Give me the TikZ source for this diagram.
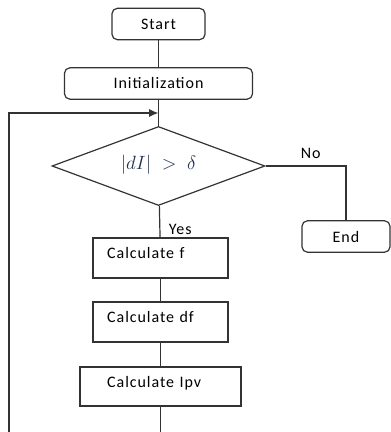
\documentclass[tikz,border=0pt]{standalone}
\usepackage{fontspec}
\setmainfont{Carlito}[LetterSpace=6]
\usetikzlibrary{shapes.geometric,arrows.meta}
\definecolor{mathblue}{HTML}{1F3050}

\tikzset{
  line/.style={draw=black!80, line width=0.9pt},
  term/.style={line, rounded corners=4pt, minimum height=23.5pt, inner sep=0pt, font=\fontsize{12}{14}\selectfont},
  stepbox/.style={line, minimum height=30pt, inner sep=0pt, font=\fontsize{12}{14}\selectfont, text depth=7pt},
  test/.style={line, diamond, aspect=2.7, minimum width=159.75pt, minimum height=59.25pt, inner sep=0pt, font=\fontsize{14.5}{17}\selectfont}
}

\begin{document}
\begin{tikzpicture}[x=0.75pt, y=-0.75pt]
  \useasboundingbox (0,0) rectangle (390,432);

  % Terminals
  \node[term, minimum width=69.75pt] (start) at (158.5,24) {Start};
  \node[term, minimum width=141pt] (init) at (158.5,83.5) {Initialization};
  \node[term, minimum width=66pt] (end) at (346,236.5) {End};

  % Test
  \node[test] (check) at (158.5,166) {\raisebox{6pt}{\color{mathblue}$\vert dI\vert\;>\;\delta$}};

  % Steps
  \node[stepbox, minimum width=101.25pt, text width=80pt, align=left] (calcf) at (160.5,258) {Calculate f};
  \node[stepbox, minimum width=101.25pt, text width=80pt, align=left] (calcdf) at (160.5,322) {Calculate df};
  \node[stepbox, minimum width=120.75pt, minimum height=29.25pt, text width=80pt, align=left] (calcipv) at (160.5,386.5) {Calculate Ipv};

  % Loop coordinates
  \coordinate (join) at (init.south |- 0,113);
  \coordinate (loopend) at (9,432);
  \coordinate (downend) at (calcipv.south |- 0,432);

  % Connectors
  \draw[line] (start) -- (init);
  \draw[line] (init) -- (check);
  \draw[line] (check) -- node[right, xshift=3pt, yshift=-6pt, font=\fontsize{12}{14}\selectfont] {Yes} (calcf);
  \draw[line] (check.east) -| node[pos=0.28, above, yshift=2pt, font=\fontsize{12}{14}\selectfont] {No} (end.north);
  \draw[line] (calcf) -- (calcdf);
  \draw[line] (calcdf) -- (calcipv);
  \draw[line] (calcipv) -- (downend);
  \draw[line, -{Latex[length=7pt, width=6pt]}] (loopend) |- (join);

\end{tikzpicture}
\end{document}
